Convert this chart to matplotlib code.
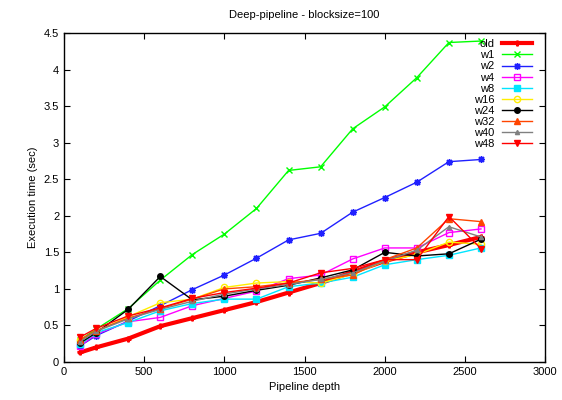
import matplotlib
matplotlib.use("Agg")
from matplotlib import pyplot as plt

plt.rcParams['font.family'] = ['Liberation Sans', 'DejaVu Sans']

depth = [100, 200, 400, 600, 800, 1000, 1200, 1400, 1600, 1800, 2000, 2200, 2400, 2600]

old = [0.13, 0.20, 0.32, 0.49, 0.60, 0.71, 0.82, 0.95, 1.08, 1.23, 1.38, 1.50, 1.60, 1.71]
w1 = [0.30, 0.45, 0.73, 1.12, 1.47, 1.75, 2.10, 2.62, 2.67, 3.19, 3.49, 3.89, 4.37, 4.39]
w2 = [0.22, 0.36, 0.56, 0.77, 0.99, 1.19, 1.42, 1.67, 1.76, 2.05, 2.25, 2.46, 2.74, 2.77]
w4 = [0.22, 0.38, 0.55, 0.61, 0.77, 0.87, 0.97, 1.14, 1.19, 1.41, 1.56, 1.56, 1.77, 1.82]
w8 = [0.24, 0.40, 0.54, 0.70, 0.80, 0.86, 0.86, 1.03, 1.08, 1.16, 1.33, 1.40, 1.46, 1.56]
w16 = [0.30, 0.42, 0.62, 0.81, 0.86, 1.02, 1.08, 1.10, 1.08, 1.20, 1.38, 1.47, 1.64, 1.61]
w24 = [0.26, 0.40, 0.72, 1.17, 0.85, 0.90, 0.98, 1.05, 1.15, 1.26, 1.50, 1.45, 1.48, 1.68]
w32 = [0.30, 0.43, 0.60, 0.73, 0.86, 1.00, 1.03, 1.08, 1.13, 1.19, 1.40, 1.56, 1.96, 1.92]
w40 = [0.28, 0.42, 0.59, 0.72, 0.83, 0.93, 1.00, 1.06, 1.13, 1.22, 1.38, 1.53, 1.85, 1.71]
w48 = [0.34, 0.46, 0.63, 0.74, 0.87, 0.95, 1.01, 1.08, 1.22, 1.28, 1.40, 1.40, 1.99, 1.55]

# name, values, colour, marker, linewidth, filled, marker size
series = [
    ("old", old, "#ff0000", "P", 3.0, True, 3.5),
    ("w1", w1, "#00ff00", "x", 1.0, True, 4.5),
    ("w2", w2, "#2020ff", (8, 2, 0), 1.0, True, 5),
    ("w4", w4, "#ff00ff", "s", 1.0, False, 4.5),
    ("w8", w8, "#00e5ff", "s", 1.0, True, 4),
    ("w16", w16, "#ffee00", "o", 1.0, False, 4.5),
    ("w24", w24, "#000000", "o", 1.0, True, 4),
    ("w32", w32, "#ff4500", "^", 1.0, True, 4.5),
    ("w40", w40, "#808080", "^", 1.0, True, 3),
    ("w48", w48, "#ff0000", "v", 1.0, True, 4.5),
]

fig = plt.figure(figsize=(5.62, 4.0), dpi=100)
ax = fig.add_axes([0.114, 0.095, 0.856, 0.8225])

for name, vals, col, mk, lw, filled, ms in series:
    ax.plot(depth, vals, color=col, lw=lw, marker=mk, ms=ms,
            markerfacecolor=col if filled else "none", markeredgecolor=col,
            markeredgewidth=1.0, label=name)

ax.set_xlim(0, 3000)
ax.set_ylim(0, 4.5)
ax.set_xticks(range(0, 3001, 500))
ax.set_yticks([0, 0.5, 1, 1.5, 2, 2.5, 3, 3.5, 4, 4.5])
ax.set_yticklabels(["0", "0.5", "1", "1.5", "2", "2.5", "3", "3.5", "4", "4.5"])
ax.tick_params(direction="in", top=True, right=True, labelsize=8, length=4)
for s in ax.spines.values():
    s.set_linewidth(1.0)

ax.set_xlabel("Pipeline depth", fontsize=8)
ax.set_ylabel("Execution time (sec)", fontsize=8)
ax.set_title("Deep-pipeline - blocksize=100", fontsize=8, pad=11)

ax.legend(loc="upper right", frameon=False, markerfirst=False, fontsize=8,
          handlelength=2.7, labelspacing=0.1, borderaxespad=0.1,
          handletextpad=0.7, bbox_to_anchor=(0.985, 0.998))

fig.savefig("out.png", dpi=100)
